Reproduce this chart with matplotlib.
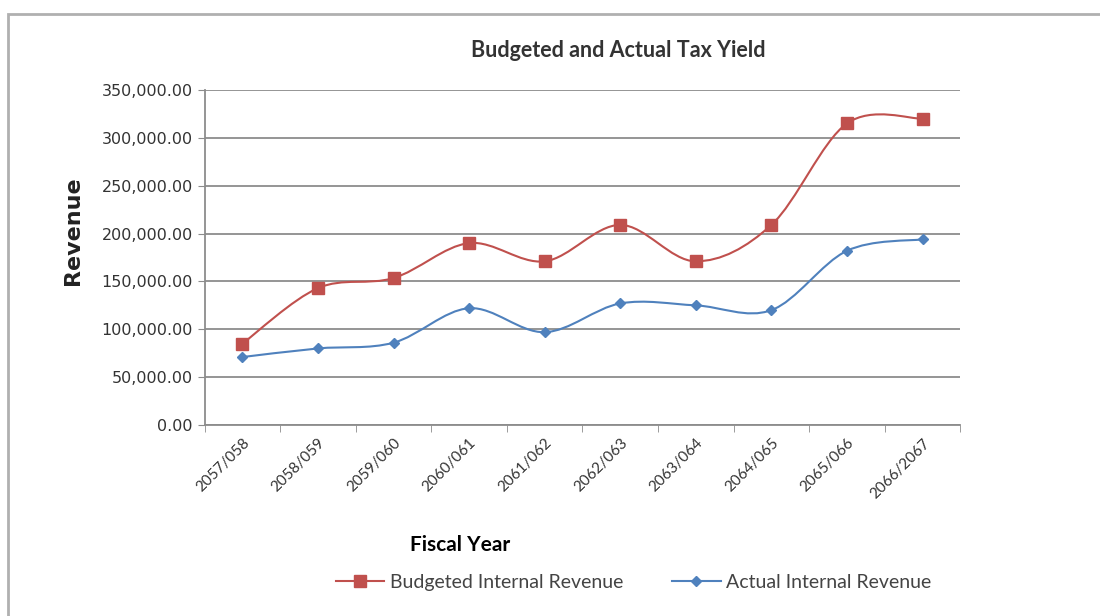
import matplotlib.pyplot as plt
import numpy as np
from matplotlib.path import Path
from matplotlib.patches import PathPatch, Rectangle
from matplotlib.lines import Line2D
from matplotlib.ticker import FuncFormatter

plt.rcParams['font.family'] = ['Lato', 'DejaVu Sans']

years = ["2057/058", "2058/059", "2059/060", "2060/061", "2061/062",
         "2062/063", "2063/064", "2064/065", "2065/066", "2066/2067"]
budgeted = [85000, 143000, 153500, 190000, 171000, 209000, 171000, 209000, 315000, 320000]
actual = [71000, 80000, 86000, 122000, 97000, 127000, 125000, 120000, 182000, 194000]

red = "#C0504D"
blue = "#4F81BD"


def smooth_path(xs, ys, t=1/6):
    # Excel-like smoothing: Catmull-Rom as cubic Bezier segments
    xs = np.asarray(xs, float)
    ys = np.asarray(ys, float)
    n = len(xs)
    verts = [(xs[0], ys[0])]
    codes = [Path.MOVETO]
    for i in range(n - 1):
        i0 = max(i - 1, 0)
        i3 = min(i + 2, n - 1)
        c1 = (xs[i] + (xs[i + 1] - xs[i0]) * t, ys[i] + (ys[i + 1] - ys[i0]) * t)
        c2 = (xs[i + 1] - (xs[i3] - xs[i]) * t, ys[i + 1] - (ys[i3] - ys[i]) * t)
        verts += [c1, c2, (xs[i + 1], ys[i + 1])]
        codes += [Path.CURVE4] * 3
    return Path(verts, codes)


fig = plt.figure(figsize=(11, 6.16), dpi=100)
fig.patches.append(Rectangle((0.007, -0.1), 1.1, 1.078, transform=fig.transFigure,
                             fill=False, edgecolor="#b0b0b0", lw=2))

ax = fig.add_axes([0.186, 0.31, 0.687, 0.544])
x = np.arange(len(years))

ax.add_patch(PathPatch(smooth_path(x, budgeted), fill=False, edgecolor=red, lw=1.5, zorder=3))
ax.add_patch(PathPatch(smooth_path(x, actual), fill=False, edgecolor=blue, lw=1.5, zorder=3))
ax.plot(x, budgeted, ls="none", marker="s", ms=8, color=red, zorder=4)
ax.plot(x, actual, ls="none", marker="D", ms=5.5, color=blue, zorder=4)

ax.set_xlim(-0.5, len(years) - 0.5)
ax.set_ylim(0, 350000)
ax.set_yticks(np.arange(0, 350001, 50000))
ax.yaxis.set_major_formatter(FuncFormatter(lambda v, p: f"{v:,.2f}"))
ax.grid(axis="y", color="#8c8c8c", lw=1.3)
ax.set_axisbelow(True)

ax.set_xticks(x)
ax.set_xticklabels(years, rotation=45, ha="right", rotation_mode="anchor", fontsize=11, color="#333333")
ax.tick_params(axis="x", length=0, pad=8)
ax.set_xticks(np.arange(-0.5, len(years)), minor=True)
ax.tick_params(axis="x", which="minor", length=5, color="#8c8c8c")
ax.tick_params(axis="y", labelsize=11.5, labelcolor="#333333", length=5, color="#8c8c8c")
for lbl in ax.get_yticklabels():
    lbl.set_family(['DejaVu Sans'])

for s in ["top", "right"]:
    ax.spines[s].set_visible(False)
for s in ["left", "bottom"]:
    ax.spines[s].set_color("#8c8c8c")
    ax.spines[s].set_linewidth(1.3)

fig.text(0.562, 0.918, "Budgeted and Actual Tax Yield", ha="center", va="center",
         fontsize=15.5, fontweight="bold", color="#333333")
fig.text(0.066, 0.625, "Revenue", rotation=90, ha="center", va="center",
         fontsize=16, fontweight="bold", color="#222222", family=['DejaVu Sans'])
fig.text(0.418, 0.115, "Fiscal Year", ha="center", va="center",
         fontsize=15, fontweight="bold", color="black")

handles = [Line2D([], [], color=red, marker="s", ms=8, lw=1.5),
           Line2D([], [], color=blue, marker="D", ms=5.5, lw=1.5)]
fig.legend(handles, ["Budgeted Internal Revenue", "Actual Internal Revenue"],
           loc="center", bbox_to_anchor=(0.576, 0.055), ncol=2, frameon=False,
           fontsize=14, handlelength=2.5, columnspacing=2.5, handletextpad=0.3,
           labelcolor="#444444")

fig.savefig("out.png", dpi=100)
